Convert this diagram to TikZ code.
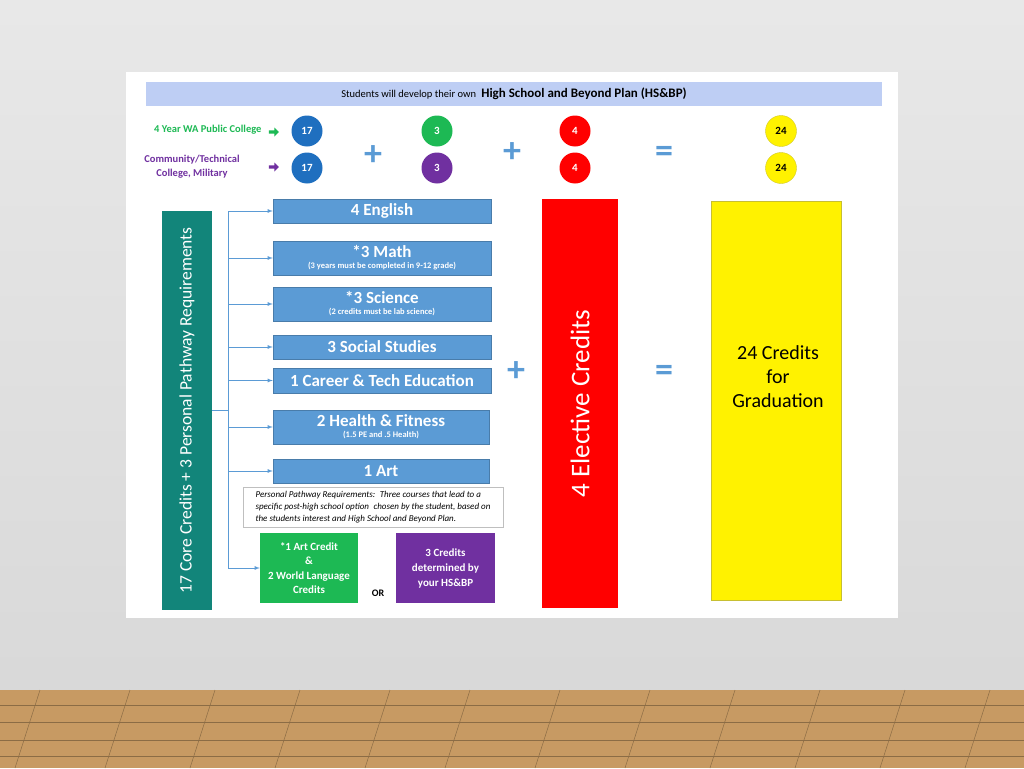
\documentclass[tikz,border=0pt]{standalone}
\usepackage{fontspec}
\setmainfont{Carlito}
\usetikzlibrary{shapes.arrows}
\begin{document}
\begin{tikzpicture}[x=1pt,y=-1pt,
 bluebox/.style={fill=cblue,draw=cblue!80!black,line width=0.4pt,text=white,font=\bfseries,align=center,inner sep=0pt},
 circ/.style={circle,minimum size=31pt,inner sep=0pt,text=white,font=\bfseries\fontsize{11}{12}\selectfont},
 conn/.style={draw=cblue,line width=0.8pt,-latex},
 sym/.style={text=cblue,font=\bfseries\fontsize{36}{36}\selectfont}]
\definecolor{cblue}{HTML}{5B9BD5}
\definecolor{cteal}{HTML}{12857A}
\definecolor{cgreen}{HTML}{1DB954}
\definecolor{cpurple}{HTML}{7030A0}
\definecolor{cdark}{HTML}{1F6FBF}
\definecolor{wood}{HTML}{C79A63}
\useasboundingbox (0,0) rectangle (1024,768);
\shade[top color=gray!18,bottom color=gray!30] (0,0) rectangle (1024,690);
\fill[wood] (0,690) rectangle (1024,768);
\foreach \yy in {705,722,740,756} \draw[wood!70!black,line width=0.6pt] (0,\yy) -- (1024,\yy);
\foreach \xx in {40,130,215,300,390,470,560,650,735,820,905,990} \draw[wood!70!black,line width=0.5pt] (\xx,690) -- (\xx-25,768);
\fill[white] (126,72) rectangle (898,618);
% header
\node[fill=blue!25!cblue!35,minimum width=736pt,minimum height=24pt,inner sep=0pt] (hdr) at (514,94) {};
\node at (hdr) {\fontsize{10.5}{12}\selectfont Students will develop their own\enspace\fontsize{13}{14}\selectfont\bfseries High School and Beyond Plan (HS\&BP)};
% left labels
\node[text=cgreen,font=\bfseries\fontsize{10.5}{12}\selectfont,anchor=east] (l1) at (265,130) {4 Year WA Public College};
\node[text=cpurple,font=\bfseries\fontsize{10.5}{14}\selectfont,align=center] (l2) at (192,167) {Community/Technical\\College, Military};
\node[single arrow,fill=cgreen,minimum height=10pt,minimum width=9pt,inner sep=1pt,single arrow head extend=2pt] (a1) at (273,132) {};
\node[single arrow,fill=cpurple,minimum height=10pt,minimum width=9pt,inner sep=1pt,single arrow head extend=2pt] (a2) at (273,167) {};
% circles
\node[circ,fill=cdark] (c1) at (307,131) {17};
\node[circ,fill=cdark] (c2) at (307,168) {17};
\node[circ,fill=cgreen] (c3) at (437,131) {3};
\node[circ,fill=cpurple] (c4) at (437,168) {3};
\node[circ,fill=red] (c5) at (575,131) {4};
\node[circ,fill=red] (c6) at (575,168) {4};
\node[circ,fill=yellow,text=black,draw=yellow!80!black] (c7) at (781,131) {24};
\node[circ,fill=yellow,text=black,draw=yellow!80!black] (c8) at (781,168) {24};
\node[sym] (p1) at (373,156) {+};
\node[sym] (p2) at (512,153) {+};
\node[sym] (e1) at (664,154) {=};
% teal bar
\node[fill=cteal,minimum width=50pt,minimum height=399pt,inner sep=0pt] (teal) at (187,410.5) {};
\node[rotate=90,text=white,font=\fontsize{17.5}{18}\selectfont] at (teal) {17 Core Credits + 3 Personal Pathway Requirements};
% boxes
\node[bluebox,minimum width=218pt,minimum height=24pt,font=\bfseries\fontsize{17}{17}\selectfont] (b1) at (382,211) {4 English};
\node[bluebox,minimum width=218pt,minimum height=34pt] (b2) at (382,258) {\fontsize{17}{17}\selectfont *3 Math\\[-1pt]\fontsize{8.5}{9}\selectfont(3 years must be completed in 9-12 grade)};
\node[bluebox,minimum width=218pt,minimum height=34pt] (b3) at (382,304) {\fontsize{17}{17}\selectfont *3 Science\\[-1pt]\fontsize{8.5}{9}\selectfont(2 credits must be lab science)};
\node[bluebox,minimum width=218pt,minimum height=24pt,font=\bfseries\fontsize{17}{17}\selectfont] (b4) at (382,347) {3 Social Studies};
\node[bluebox,minimum width=218pt,minimum height=25pt,font=\bfseries\fontsize{17}{17}\selectfont] (b5) at (382,380.5) {1 Career \& Tech Education};
\node[bluebox,minimum width=216pt,minimum height=34pt] (b6) at (381,427) {\fontsize{17}{17}\selectfont 2 Health \& Fitness\\[-1pt]\fontsize{8.5}{9}\selectfont(1.5 PE and .5 Health)};
\node[bluebox,minimum width=216pt,minimum height=24pt,font=\bfseries\fontsize{17}{17}\selectfont] (b7) at (381,471) {1 Art};
\node[draw=gray!50,fill=white,minimum width=260pt,minimum height=40pt,inner sep=3pt,align=left,font=\itshape\fontsize{9}{12}\selectfont] (note) at (373,507) {Personal Pathway Requirements:\enspace Three courses that lead to a\\specific post-high school option\enspace chosen by the student, based on\\the students interest and High School and Beyond Plan.};
\node[fill=cgreen,minimum width=98pt,minimum height=70pt,inner sep=0pt,text=white,align=center,font=\bfseries\fontsize{11}{14.5}\selectfont] (g) at (309,568) {*1 Art Credit\\\&\\2 World Language\\Credits};
\node[fill=cpurple,minimum width=99pt,minimum height=70pt,inner sep=0pt,text=white,align=center,font=\bfseries\fontsize{11}{15}\selectfont] (pu) at (445.5,568) {3 Credits\\determined by\\your HS\&BP};
\node[font=\bfseries\fontsize{10}{11}\selectfont] (or) at (378,593) {OR};
% connectors
\coordinate (j) at (228,410);
\coordinate (top) at (228,211);
\coordinate (bot) at (228,568);
\draw[draw=cblue,line width=0.8pt] (teal.east |- j) -- (j);
\draw[draw=cblue,line width=0.8pt] (top) -- (bot);
\foreach \b in {b1,b2,b3,b4,b5,b6,b7} \draw[conn] (top |- \b.west) -- (\b.west);
\draw[conn] (bot) -- (g.west |- bot);
% red box
\node[fill=red,minimum width=76pt,minimum height=409pt,inner sep=0pt] (red) at (580,403.5) {};
\node[rotate=90,text=white,font=\fontsize{27}{27}\selectfont] at (red) {4 Elective Credits};
\node[sym] (p3) at (516,372) {+};
\node[sym] (e2) at (664,373) {=};
% yellow
\node[fill=yellow,draw=yellow!75!black,line width=0.4pt,minimum width=130pt,minimum height=399pt,inner sep=0pt] (yel) at (776,400.5) {};
\node[align=center,font=\fontsize{20}{24}\selectfont] at (778,377) {24 Credits\\for\\Graduation};
\end{tikzpicture}
\end{document}
